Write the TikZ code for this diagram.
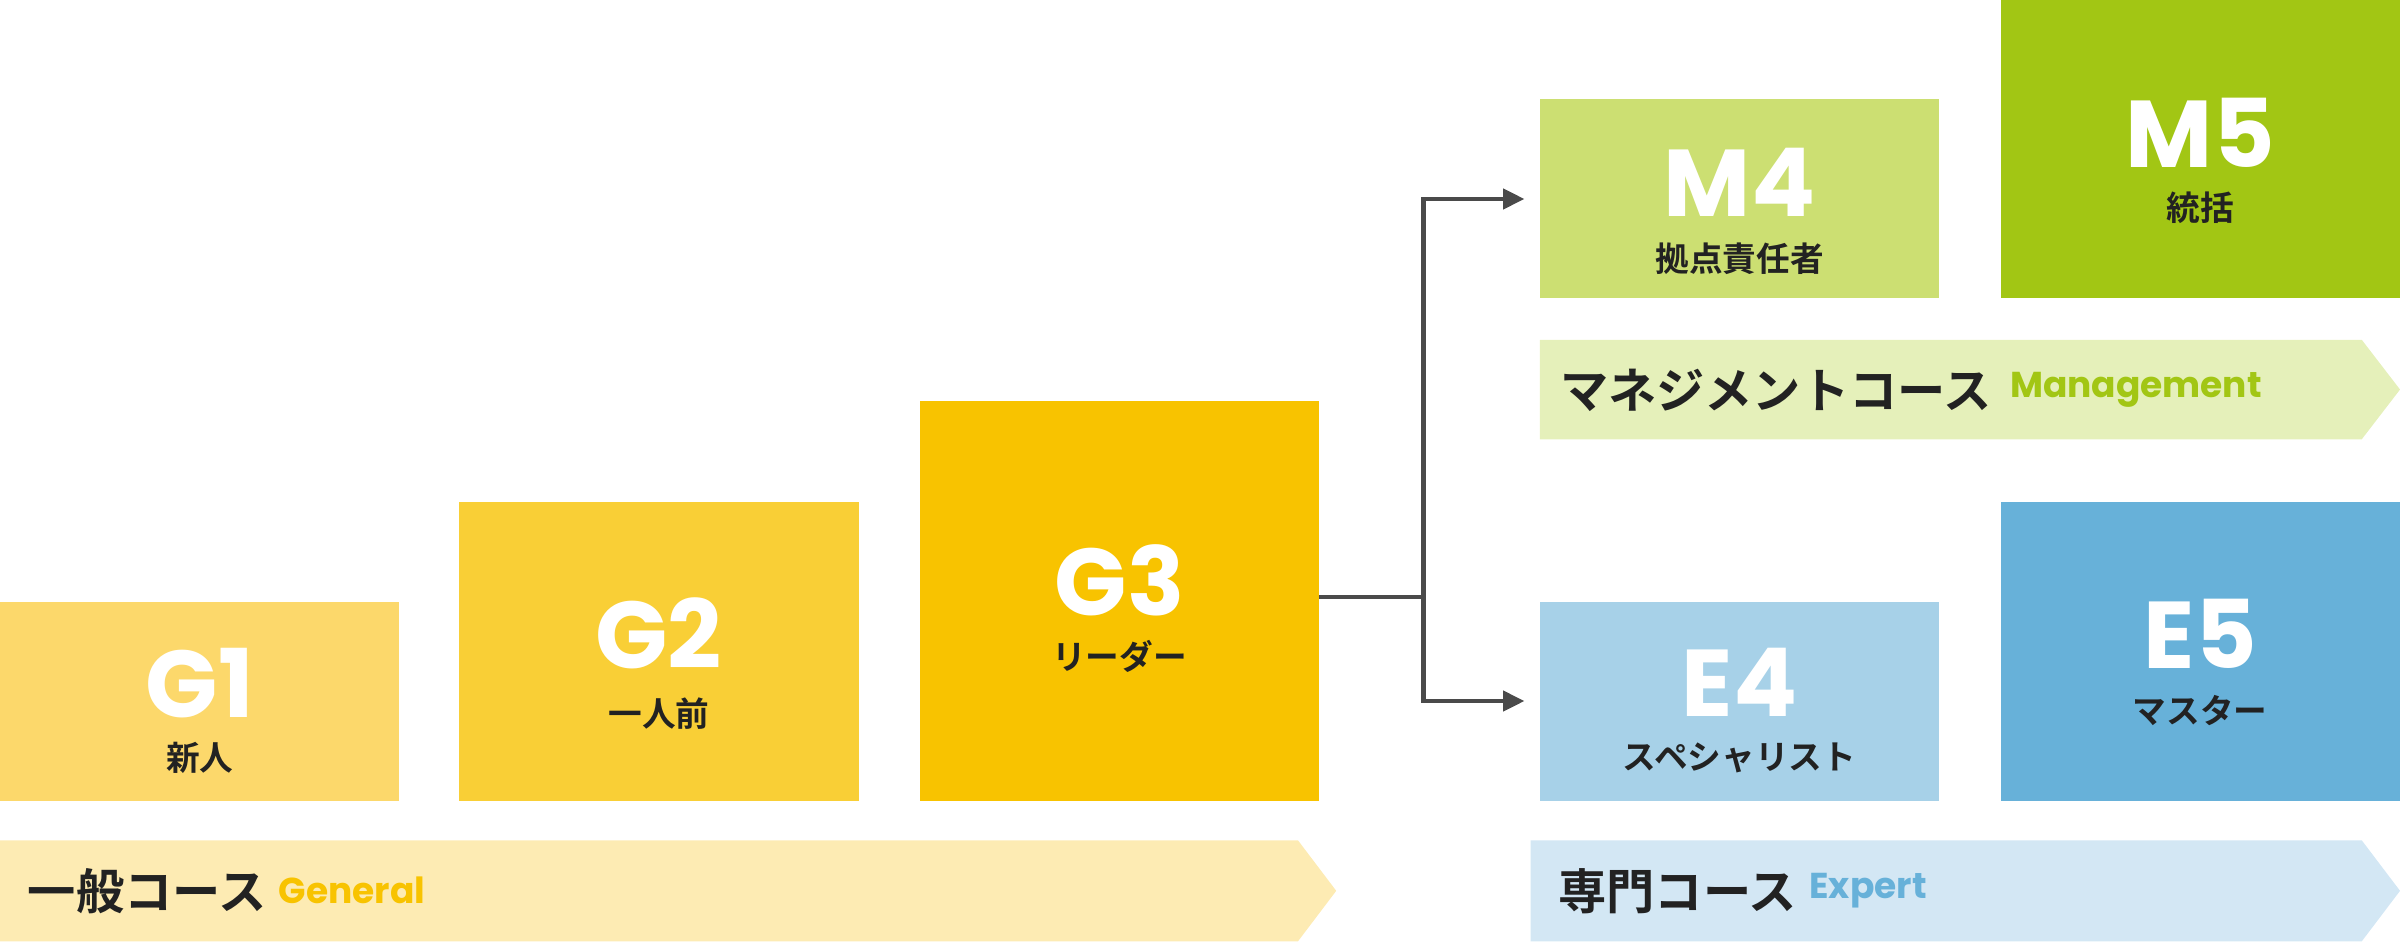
\documentclass[tikz,border=0pt]{standalone}
\usepackage{fontspec}
\setmainfont{Poppins}[BoldFont={Poppins Bold}]
\newfontfamily\cjk{Noto Sans CJK JP Bold}
\newfontfamily\pop{Poppins Bold}
\usetikzlibrary{arrows.meta,calc}
\definecolor{cgA}{HTML}{FCD86B}
\definecolor{cgB}{HTML}{F9CF36}
\definecolor{cgC}{HTML}{F8C300}
\definecolor{cmA}{HTML}{CCDF72}
\definecolor{cmB}{HTML}{A2C614}
\definecolor{ceA}{HTML}{A7D1E8}
\definecolor{ceB}{HTML}{67B1D9}
\definecolor{bgG}{HTML}{FDEBB3}
\definecolor{bgM}{HTML}{E5F0BA}
\definecolor{bgE}{HTML}{D3E7F4}
\definecolor{dk}{HTML}{222222}
\definecolor{ln}{HTML}{4A4A4A}
\begin{document}
\begin{tikzpicture}[x=1pt,y=-1pt,
 big/.style={text=white,font=\pop\fontsize{62}{62}\selectfont,inner sep=0pt,anchor=center},
 sub/.style={text=dk,font=\cjk\fontsize{22}{22}\selectfont,inner sep=0pt,anchor=center},
 band/.style={text=dk,font=\cjk\fontsize{31.5}{31.5}\selectfont,inner sep=0pt,anchor=west},
 eng/.style={font=\pop\fontsize{23.5}{23.5}\selectfont,inner sep=0pt,anchor=west}]
\useasboundingbox (0,0) rectangle (1568,615);
% boxes
\fill[cgA] (0,393) rectangle (261,523);
\fill[cgB] (300,328) rectangle (561,523);
\fill[cgC] (601,262) rectangle (862,523);
\fill[cmA] (1006,65) rectangle (1267,195);
\fill[cmB] (1307,0) rectangle (1568,195);
\fill[ceA] (1006,393) rectangle (1267,523);
\fill[ceB] (1307,328) rectangle (1568,523);
% bands
\fill[bgG] (0,549) -- (848,549) -- (873,582) -- (848,615) -- (0,615) -- cycle;
\fill[bgM] (1006,222) -- (1543,222) -- (1568,254.5) -- (1543,287) -- (1006,287) -- cycle;
\fill[bgE] (1000,549) -- (1543,549) -- (1568,582) -- (1543,615) -- (1000,615) -- cycle;
% labels
\node[big] (g1) at (130.5,446) {G1};
\node[sub] (g1s) at (130.5,495) {\cjk 新人};
\node[big] (g2) at (430.5,414) {G2};
\node[sub] (g2s) at (430.5,466) {\cjk 一人前};
\node[big] (g3) at (731.5,379) {G3};
\node[sub] (g3s) at (731.5,429) {\cjk リーダー};
\node[big] (m4) at (1136.5,119) {M4};
\node[sub] (m4s) at (1136.5,169) {\cjk 拠点責任者};
\node[big] (m5) at (1437.5,87) {M5};
\node[sub] (m5s) at (1437.5,136) {\cjk 統括};
\node[big] (e4) at (1136.5,446) {E4};
\node[sub] (e4s) at (1136.5,495) {\cjk スペシャリスト};
\node[big] (e5) at (1437.5,414) {E5};
\node[sub] (e5s) at (1437.5,464) {\cjk マスター};
\node[band] (bg) at (18,582) {一般コース};
\node[eng,text=cgC] (bge) at (182,582) {General};
\node[band] (bm) at (1019,255) {マネジメントコース};
\node[eng,text=cmB] (bme) at (1313,255) {Management};
\node[band] (be) at (1018,582) {専門コース};
\node[eng,text=ceB] (bee) at (1182,582) {Expert};
% connectors
\coordinate (src) at (862,390);
\coordinate (j) at (930,390);
\coordinate (tu) at (996,130);
\coordinate (td) at (996,458);
\draw[ln,line width=3pt] (src) -- (j);
\draw[ln,line width=3pt,-{Triangle[length=14pt,width=13pt]}] (j) |- (tu);
\draw[ln,line width=3pt,-{Triangle[length=14pt,width=13pt]}] (j) |- (td);
\end{tikzpicture}
\end{document}
